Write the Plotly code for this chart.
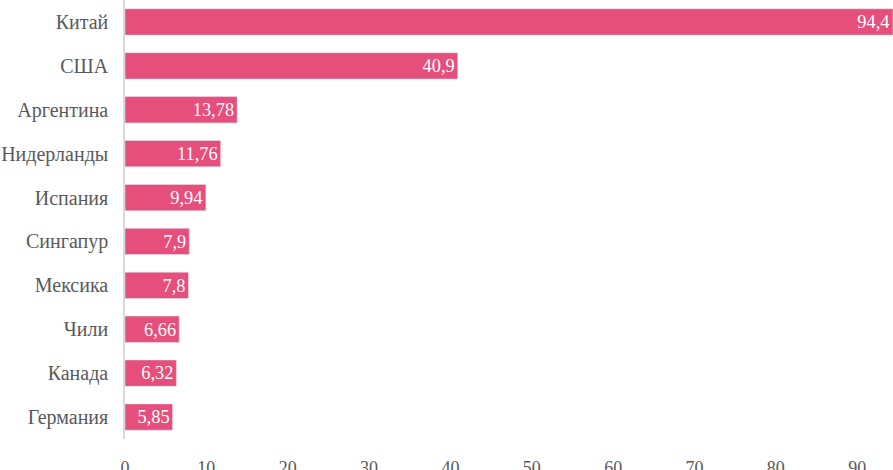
import plotly.graph_objs as go

countries = ["Китай", "США", "Аргентина", "Нидерланды", "Испания",
             "Сингапур", "Мексика", "Чили", "Канада", "Германия"]
values = [94.4, 40.9, 13.78, 11.76, 9.94, 7.9, 7.8, 6.66, 6.32, 5.85]
x_ticks = [0, 10, 20, 30, 40, 50, 60, 70, 80, 90]

labels = [str(v).replace(".", ",") for v in values]

SERIF = "Liberation Serif"

fig = go.Figure()
fig.add_trace(go.Bar(
    x=values,
    y=countries,
    orientation="h",
    marker=dict(color="#E64F7B"),
    text=labels,
    textposition="inside",
    textfont=dict(color="white", size=19, family=SERIF),
))

fig.update_xaxes(
    range=[0, 94.4],
    tickvals=x_ticks,
    showgrid=False,
    zeroline=False,
    automargin=False,
    ticks="outside",
    ticklen=12,
    tickcolor="white",
    tickfont=dict(size=18, color="#595959", family=SERIF),
)
fig.update_yaxes(
    autorange="reversed",
    showgrid=False,
    showline=True,
    linecolor="#D9D9D9",
    linewidth=1.5,
    automargin=False,
    ticks="outside",
    ticklen=11,
    tickcolor="white",
    tickfont=dict(size=20, color="#595959", family=SERIF),
)

fig.update_layout(
    width=893, height=470,
    margin=dict(l=125, r=0, t=0, b=31),
    bargap=0.4,
    font=dict(family=SERIF, color="#595959"),
    plot_bgcolor="white",
    showlegend=False,
)
fig.write_html("out.html", config={"displayModeBar": False},
               post_script="document.body.style.margin='0';")
